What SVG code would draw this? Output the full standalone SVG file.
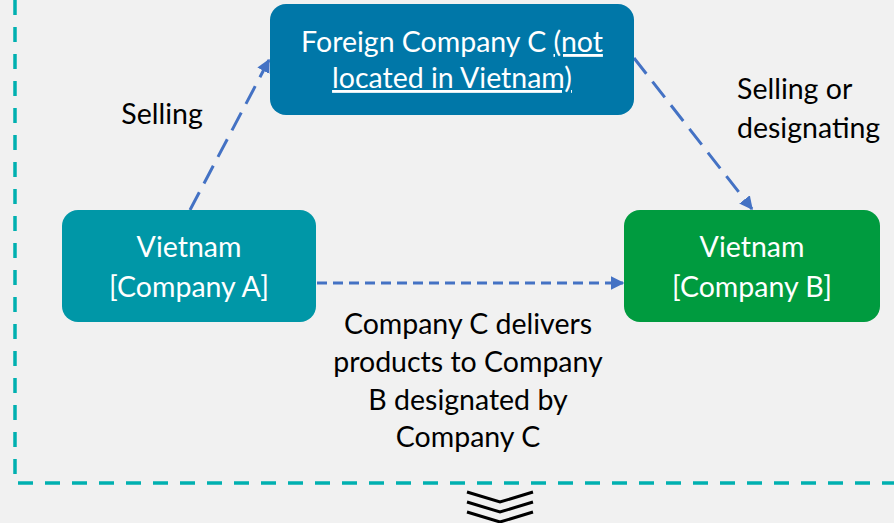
<svg xmlns="http://www.w3.org/2000/svg" width="894" height="523" viewBox="0 0 894 523">
  <style>
    .lbl { font-family: Lato, "Open Sans", "Liberation Sans", sans-serif; font-size: 28.5px; fill: #000; }
    .ntx { font-family: Lato, "Open Sans", "Liberation Sans", sans-serif; font-size: 28.5px; fill: #fff; text-anchor: middle; }
    .edge { stroke: #4472C4; stroke-width: 3; fill: none; }
  </style>
  <defs>
    <marker id="arrow" viewBox="0 0 10 10" refX="9" refY="5" markerWidth="4.5" markerHeight="4.5" orient="auto" markerUnits="strokeWidth">
      <path d="M0,0 L10,5 L0,10 z" fill="#4472C4"/>
    </marker>
  </defs>
  <rect width="894" height="523" fill="#F1F1F1"/>

  <!-- dashed boundary -->
  <path d="M15,0 V483 H894" fill="none" stroke="#00B0B0" stroke-width="3.5" stroke-dasharray="15,12"/>

  <!-- connectors -->
  <g id="connectors">
    <line class="edge" x1="190" y1="210" x2="269" y2="60" stroke-dasharray="20,10" marker-end="url(#arrow)"/>
    <line class="edge" x1="634" y1="58" x2="752" y2="209" stroke-dasharray="20,10" marker-end="url(#arrow)"/>
    <line class="edge" x1="317" y1="283" x2="623" y2="283" stroke-dasharray="10,6" marker-end="url(#arrow)"/>
  </g>

  <g id="nodeC">
    <rect x="270" y="4" width="364" height="111" rx="16" fill="#0077A8"/>
    <text class="ntx" x="452" y="52">Foreign Company C <tspan text-decoration="underline">(not</tspan></text>
    <text class="ntx" x="452" y="88" text-decoration="underline">located in Vietnam)</text>
  </g>

  <g id="nodeA">
    <rect x="62" y="210" width="254" height="112" rx="16" fill="#0097A7"/>
    <text class="ntx" x="189" y="257">Vietnam</text>
    <text class="ntx" x="189" y="297">[Company A]</text>
  </g>

  <g id="nodeB">
    <rect x="624" y="210" width="256" height="112" rx="16" fill="#009B3F"/>
    <text class="ntx" x="752" y="257">Vietnam</text>
    <text class="ntx" x="752" y="297">[Company B]</text>
  </g>

  <!-- edge labels -->
  <text class="lbl" x="162" y="124" text-anchor="middle">Selling</text>
  <text class="lbl" x="737" y="99">Selling or</text>
  <text class="lbl" x="737" y="138">designating</text>
  <g class="lbl" text-anchor="middle">
    <text x="468" y="334">Company C delivers</text>
    <text x="468" y="372">products to Company</text>
    <text x="468" y="410">B designated by</text>
    <text x="468" y="447">Company C</text>
  </g>

  <!-- chevrons -->
  <g fill="none" stroke="#000" stroke-width="3">
    <path d="M467,492 L500,502 L533,492"/>
    <path d="M467,502 L500,512 L533,502"/>
    <path d="M467,512 L500,522 L533,512"/>
  </g>
</svg>
